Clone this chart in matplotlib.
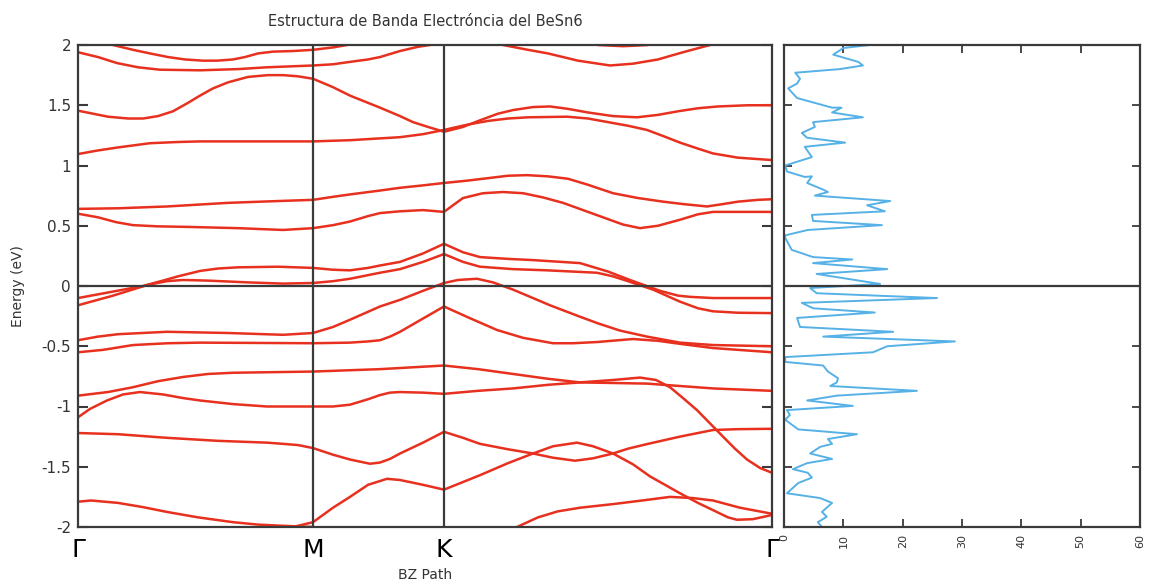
import matplotlib
matplotlib.use("Agg")
import matplotlib.pyplot as plt
import numpy as np

plt.rcParams['axes.unicode_minus'] = False

# high-symmetry points along the path (path length, arbitrary units)
k_labels = ["Γ", "M", "K", "Γ"]
k_nodes = [0.0, 2.35, 3.66, 6.94]

# bands as (k, E) pairs, energies in eV
band_1 = [(0.30, 2.02), (0.35, 2.0), (0.55, 1.96), (0.72, 1.93), (0.9, 1.90), (1.07, 1.88),
          (1.25, 1.87), (1.39, 1.87), (1.55, 1.88), (1.67, 1.90), (1.8, 1.93), (1.95, 1.945),
          (2.15, 1.95), (2.35, 1.96), (2.55, 1.98), (2.69, 2.0), (2.75, 2.02)]
band_2 = [(0.0, 1.94), (0.2, 1.90), (0.39, 1.85), (0.6, 1.815), (0.82, 1.795), (1.22, 1.79),
          (1.6, 1.80), (1.89, 1.815), (2.35, 1.83), (2.55, 1.84), (2.72, 1.86), (2.9, 1.88),
          (3.02, 1.90), (3.22, 1.95), (3.4, 1.985), (3.52, 2.0), (3.60, 2.02)]
band_3 = [(0.0, 1.455), (0.15, 1.43), (0.3, 1.405), (0.5, 1.39), (0.65, 1.39), (0.8, 1.41),
          (0.95, 1.45), (1.1, 1.52), (1.22, 1.58), (1.35, 1.64), (1.5, 1.69), (1.7, 1.735),
          (1.9, 1.75), (2.05, 1.75), (2.2, 1.74), (2.35, 1.72), (2.55, 1.65), (2.72, 1.58),
          (2.9, 1.52), (3.02, 1.48), (3.22, 1.41), (3.35, 1.36), (3.5, 1.32), (3.66, 1.28),
          (3.85, 1.32), (4.02, 1.375), (4.2, 1.43), (4.35, 1.46), (4.55, 1.485), (4.72, 1.49),
          (4.9, 1.47), (5.1, 1.44), (5.35, 1.41), (5.59, 1.40), (5.8, 1.42), (6.0, 1.45),
          (6.2, 1.475), (6.4, 1.49), (6.7, 1.50), (6.94, 1.50)]
band_4 = [(0.0, 1.095), (0.2, 1.125), (0.4, 1.15), (0.72, 1.185), (1.0, 1.195), (1.22, 1.20),
          (2.35, 1.20), (2.72, 1.21), (3.22, 1.235), (3.45, 1.26), (3.66, 1.295), (3.9, 1.34),
          (4.1, 1.37), (4.3, 1.39), (4.5, 1.40), (4.89, 1.405), (5.1, 1.39), (5.3, 1.36),
          (5.5, 1.33), (5.69, 1.295), (5.85, 1.245), (6.02, 1.19), (6.2, 1.14), (6.35, 1.10),
          (6.6, 1.065), (6.94, 1.045)]
band_5 = [(0.0, 0.64), (0.4, 0.645), (0.89, 0.66), (1.5, 0.69), (2.0, 0.705), (2.35, 0.715),
          (2.55, 0.74), (2.72, 0.76), (3.0, 0.79), (3.22, 0.815), (3.45, 0.835), (3.66, 0.855),
          (3.9, 0.875), (4.1, 0.895), (4.3, 0.915), (4.49, 0.92), (4.7, 0.91), (4.9, 0.89),
          (5.1, 0.84), (5.35, 0.77), (5.6, 0.73), (5.85, 0.70), (6.05, 0.68), (6.29, 0.66),
          (6.45, 0.68), (6.6, 0.70), (6.8, 0.715), (6.94, 0.72)]
band_6 = [(0.0, 0.60), (0.2, 0.57), (0.38, 0.53), (0.55, 0.505), (0.8, 0.495), (1.12, 0.49),
          (1.6, 0.48), (2.05, 0.465), (2.35, 0.48), (2.55, 0.505), (2.72, 0.535), (2.9, 0.58),
          (3.02, 0.605), (3.22, 0.62), (3.45, 0.63), (3.66, 0.615), (3.75, 0.67), (3.85, 0.73),
          (4.05, 0.77), (4.25, 0.78), (4.45, 0.77), (4.65, 0.735), (4.85, 0.69), (5.05, 0.63),
          (5.25, 0.57), (5.45, 0.51), (5.62, 0.48), (5.8, 0.50), (6.02, 0.55), (6.2, 0.595),
          (6.35, 0.615), (6.6, 0.615), (6.94, 0.615)]
band_7 = [(0.0, -0.10), (0.3, -0.054), (0.65, 0.0), (0.85, 0.045), (1.0, 0.08), (1.22, 0.125),
          (1.4, 0.145), (1.6, 0.155), (2.0, 0.16), (2.35, 0.15), (2.55, 0.135), (2.72, 0.13),
          (2.9, 0.15), (3.02, 0.17), (3.22, 0.20), (3.45, 0.27), (3.66, 0.35), (3.85, 0.28),
          (4.02, 0.24), (4.3, 0.225), (4.55, 0.215), (5.02, 0.19), (5.3, 0.12), (5.52, 0.05),
          (5.82, -0.04), (6.0, -0.08), (6.12, -0.09), (6.35, -0.10), (6.94, -0.10)]
band_8 = [(0.0, -0.16), (0.35, -0.08), (0.7, 0.01), (0.89, 0.04), (1.05, 0.05), (1.29, 0.045),
          (1.7, 0.03), (2.05, 0.02), (2.35, 0.025), (2.55, 0.04), (2.72, 0.06), (3.02, 0.11),
          (3.22, 0.14), (3.45, 0.20), (3.66, 0.265), (3.85, 0.20), (4.02, 0.16), (4.35, 0.14),
          (4.69, 0.13), (5.19, 0.11), (5.35, 0.08), (5.5, 0.04), (5.75, -0.03), (6.02, -0.13),
          (6.2, -0.185), (6.35, -0.21), (6.6, -0.222), (6.94, -0.225)]
band_9 = [(0.0, -0.45), (0.2, -0.42), (0.4, -0.40), (0.89, -0.38), (1.5, -0.39), (2.05, -0.405),
          (2.35, -0.39), (2.55, -0.34), (2.72, -0.28), (3.02, -0.17), (3.22, -0.115),
          (3.45, -0.04), (3.66, 0.025), (3.8, 0.05), (3.99, 0.06), (4.15, 0.03), (4.35, -0.03),
          (4.55, -0.10), (4.72, -0.16), (5.02, -0.255), (5.2, -0.31), (5.42, -0.37), (5.69, -0.42),
          (6.02, -0.47), (6.35, -0.49), (6.94, -0.50)]
band_10 = [(0.0, -0.55), (0.25, -0.53), (0.55, -0.49), (0.9, -0.475), (1.22, -0.47), (2.35, -0.475),
           (2.72, -0.47), (2.9, -0.46), (3.02, -0.45), (3.12, -0.42), (3.22, -0.38), (3.45, -0.27),
           (3.66, -0.17), (3.9, -0.26), (4.19, -0.365), (4.45, -0.43), (4.75, -0.475),
           (4.95, -0.475), (5.19, -0.465), (5.55, -0.44), (5.8, -0.455), (6.02, -0.48),
           (6.35, -0.515), (6.94, -0.55)]
band_11 = [(0.0, -0.91), (0.3, -0.88), (0.55, -0.84), (0.8, -0.79), (1.05, -0.755), (1.3, -0.73),
           (1.55, -0.72), (2.35, -0.71), (3.02, -0.69), (3.66, -0.66), (4.0, -0.69), (4.35, -0.73),
           (4.7, -0.77), (5.02, -0.80), (5.69, -0.81), (6.35, -0.85), (6.94, -0.87)]
band_12 = [(0.0, -1.09), (0.12, -1.02), (0.29, -0.95), (0.45, -0.90), (0.62, -0.88), (0.85, -0.9),
           (1.05, -0.93), (1.22, -0.95), (1.55, -0.98), (1.89, -1.0), (2.35, -1.0), (2.55, -1.0),
           (2.72, -0.985), (2.9, -0.94), (3.02, -0.905), (3.12, -0.885), (3.22, -0.88),
           (3.45, -0.885), (3.66, -0.895), (4.0, -0.87), (4.35, -0.85), (4.7, -0.82), (5.02, -0.80),
           (5.35, -0.78), (5.62, -0.76), (5.78, -0.78), (5.92, -0.84), (6.05, -0.93), (6.19, -1.03),
           (6.32, -1.14), (6.45, -1.25), (6.57, -1.35), (6.69, -1.44), (6.82, -1.51), (6.94, -1.55)]
band_13 = [(0.0, -1.22), (0.4, -1.23), (0.89, -1.26), (1.4, -1.285), (1.89, -1.30), (2.05, -1.31),
           (2.2, -1.32), (2.35, -1.345), (2.55, -1.40), (2.72, -1.44), (2.92, -1.475), (3.02, -1.465),
           (3.12, -1.435), (3.22, -1.39), (3.45, -1.30), (3.66, -1.21), (3.85, -1.26), (4.02, -1.31),
           (4.3, -1.355), (4.55, -1.39), (4.75, -1.425), (4.97, -1.45), (5.15, -1.43), (5.35, -1.39),
           (5.5, -1.35), (5.7, -1.31), (6.02, -1.25), (6.35, -1.195), (6.6, -1.188), (6.94, -1.185)]
band_14 = [(2.15, -2.0), (2.35, -1.96), (2.55, -1.84), (2.72, -1.75), (2.9, -1.65), (3.09, -1.60),
           (3.22, -1.61), (3.45, -1.65), (3.66, -1.69), (4.02, -1.57), (4.3, -1.47), (4.55, -1.39),
           (4.75, -1.33), (4.99, -1.30), (5.15, -1.33), (5.35, -1.39), (5.55, -1.48), (5.72, -1.58),
           (6.02, -1.72), (6.2, -1.80), (6.35, -1.86), (6.5, -1.92), (6.59, -1.94), (6.75, -1.935),
           (6.94, -1.90)]
band_15 = [(0.0, -1.79), (0.13, -1.78), (0.4, -1.80), (0.65, -1.835), (0.89, -1.875), (1.2, -1.92),
           (1.55, -1.96), (1.8, -1.98), (2.05, -1.99), (2.35, -2.0), (2.52, -2.02)]
band_16 = [(4.35, -2.02), (4.39, -2.0), (4.6, -1.92), (4.8, -1.87), (5.02, -1.84), (5.35, -1.81),
           (5.69, -1.775), (5.92, -1.75), (6.15, -1.76), (6.35, -1.78), (6.62, -1.84), (6.94, -1.89)]
band_17 = [(4.2, 2.02), (4.25, 2.0), (4.5, 1.96), (4.7, 1.93), (5.0, 1.87), (5.32, 1.83),
           (5.55, 1.845), (5.8, 1.88), (6.05, 1.94), (6.32, 2.0), (6.37, 2.02)]
band_18 = [(5.2, 2.0), (5.45, 1.99), (5.7, 2.0)]

bands = [band_1, band_2, band_3, band_4, band_5, band_6, band_7, band_8, band_9,
         band_10, band_11, band_12, band_13, band_14, band_15, band_16, band_17, band_18]

# total density of states: energy (eV) and states
dos_energy = [2.0, 1.975, 1.92, 1.86, 1.83, 1.80, 1.77, 1.72, 1.68, 1.64, 1.56, 1.48, 1.48, 1.44,
              1.40, 1.36, 1.32, 1.27, 1.23, 1.19, 1.155, 1.07, 1.0, 0.95, 0.905, 0.91, 0.855, 0.80,
              0.78, 0.75, 0.705, 0.67, 0.62, 0.59, 0.54, 0.505, 0.465, 0.42, 0.40, 0.30, 0.24, 0.22,
              0.19, 0.14, 0.10, 0.017, -0.017, -0.06, -0.10, -0.14, -0.185, -0.22, -0.265, -0.34,
              -0.38, -0.42, -0.46, -0.50, -0.55, -0.59, -0.63, -0.66, -0.71, -0.765, -0.80, -0.83,
              -0.87, -0.91, -0.95, -0.995, -1.03, -1.07, -1.11, -1.19, -1.23, -1.27, -1.31, -1.335,
              -1.39, -1.435, -1.47, -1.52, -1.55, -1.59, -1.635, -1.72, -1.76, -1.80, -1.875, -1.915,
              -1.96, -2.0]
dos_value = [14.5, 10.0, 8.3, 12.5, 13.3, 9.4, 1.9, 2.7, 2.2, 0.7, 2.2, 8.1, 9.7, 8.1,
             13.3, 4.9, 5.2, 3.0, 3.9, 10.3, 3.5, 4.7, 0.2, 0.5, 3.5, 4.7, 3.9, 6.6,
             7.4, 5.2, 17.9, 14.0, 17.0, 4.7, 4.9, 16.5, 4.0, 0.2, 0.2, 1.3, 4.9, 11.5,
             4.9, 17.4, 5.5, 16.2, 4.4, 5.5, 25.8, 3.0, 4.9, 15.3, 2.2, 2.7,
             18.4, 6.6, 28.8, 17.4, 15.0, 0.2, 0.2, 6.6, 7.4, 9.1, 8.9, 7.8,
             22.4, 8.9, 3.9, 11.6, 0.5, 1.0, 0.2, 2.4, 12.3, 7.4, 8.1, 6.1,
             4.4, 8.1, 3.9, 1.5, 4.0, 4.7, 2.4, 0.5, 6.1, 8.1, 6.4, 7.2,
             5.7, 6.4]

dos_ticks = [0, 10, 20, 30, 40, 50, 60]
e_ticks = [-2, -1.5, -1, -0.5, 0, 0.5, 1, 1.5, 2]

band_color = '#e8301f'
dos_color = '#56b1e6'
frame_color = '#3a3a3a'
text_color = '#333333'

fig = plt.figure(figsize=(11.53, 5.83), dpi=100)
ax = fig.add_axes([78 / 1153, 56 / 583, 694 / 1153, 482 / 583])
ax2 = fig.add_axes([784 / 1153, 56 / 583, 356 / 1153, 482 / 583])

for b in bands:
    k, e = zip(*b)
    ax.plot(k, e, color=band_color, lw=1.8, solid_capstyle='round', solid_joinstyle='round')

for kn in k_nodes[1:-1]:
    ax.axvline(kn, color=frame_color, lw=1.6, zorder=3)
ax.axhline(0, color=frame_color, lw=1.6, zorder=3)

ax.set_xlim(k_nodes[0], k_nodes[-1])
ax.set_ylim(-2, 2)
ax.set_xticks(k_nodes)
ax.set_xticklabels(k_labels, fontsize=18, color='black')
ax.tick_params(axis='x', length=0, pad=8)
ax.set_yticks(e_ticks)
ax.set_yticklabels([f"{t:g}" for t in e_ticks], fontsize=11, color=text_color)
ax.tick_params(axis='y', direction='in', length=7, width=1.5, color=frame_color,
               left=True, right=True, pad=5)
for s in ax.spines.values():
    s.set_color(frame_color)
    s.set_linewidth(1.6)
ax.set_ylabel("Energy (eV)", fontsize=10, color=text_color, labelpad=12)
ax.set_xlabel("BZ Path", fontsize=10, color=text_color, labelpad=4)
ax.set_title("Estructura de Banda Electróncia del BeSn6", fontsize=10.5,
             color=text_color, pad=14)

ax2.plot(dos_value, dos_energy, color=dos_color, lw=1.4)
ax2.axhline(0, color=frame_color, lw=1.6, zorder=3)
ax2.set_xlim(0, 60)
ax2.set_ylim(-2, 2)
ax2.set_xticks(dos_ticks)
ax2.set_xticklabels([str(t) for t in dos_ticks], fontsize=8, rotation=90, color=text_color)
ax2.set_yticks(e_ticks[1:-1])
ax2.set_yticklabels([])
ax2.tick_params(axis='both', direction='in', length=6, width=1.3, color=frame_color,
                top=True, bottom=True, left=True, right=True)
ax2.tick_params(axis='x', pad=5)
for s in ax2.spines.values():
    s.set_color(frame_color)
    s.set_linewidth(1.6)

fig.savefig("out.png", dpi=100, facecolor='white')
